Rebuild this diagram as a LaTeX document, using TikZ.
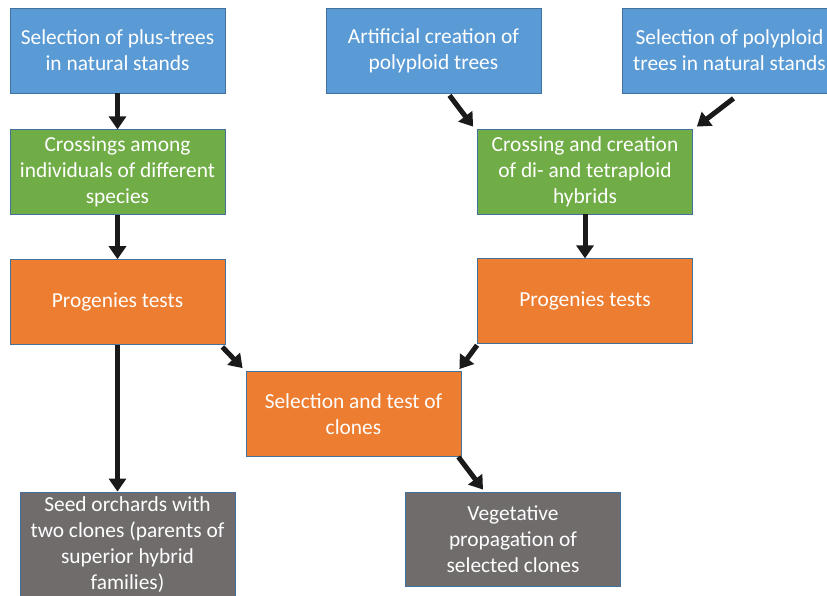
\documentclass[tikz,border=0pt]{standalone}
\usepackage{fontspec}
\setmainfont{Carlito}
\usepackage{xcolor}
\usepackage{tikz}
\usetikzlibrary{arrows.meta,positioning}
\definecolor{offblue}{HTML}{5B9BD5}
\definecolor{offgreen}{HTML}{70AD47}
\definecolor{offorange}{HTML}{ED7D31}
\definecolor{offgray}{HTML}{706C6C}
\definecolor{offedge}{HTML}{41719C}
\definecolor{arrowdark}{HTML}{1A1A1A}

\begin{document}
\begin{tikzpicture}[
  x=0.5pt, y=-0.5pt,
  node distance=18pt,
  stage/.style={rectangle, draw=offedge, line width=0.4pt, fill=#1, text=white,
               minimum width=107.5pt, minimum height=42.5pt, inner sep=2pt,
               font=\fontsize{10.7}{13}\selectfont, align=center},
  flow/.style={-{Triangle[length=6.5pt,width=8.5pt]}, line width=2.5pt, arrowdark},
]
\clip (0,0) rectangle (827,596);

% Sources
\node[stage=offblue] (plus) at (117.5,50.5) {Selection of plus-trees\\in natural stands};
\node[stage=offblue] (artif) at (433.5,50.5) {Artificial creation of\\polyploid trees};
\node[stage=offblue] (poly) at (729.5,50.5) {Selection of polyploid\\trees in natural stands};

% Crossings
\node[stage=offgreen, below=of plus] (cross) {Crossings among\\individuals of different\\species};
\node[stage=offgreen] (hybr) at (585,171.5) {Crossing and creation\\of di- and tetraploid\\hybrids};

% Tests
\node[stage=offorange, below=22pt of cross] (progl) {Progenies tests};
\node[stage=offorange, below=22pt of hybr] (progr) {Progenies tests};
\node[stage=offorange] (clones) at (353.5,414) {Selection and test of\\clones};

% Outcomes
\node[stage=offgray, minimum height=53pt] (seed) at (127.5,545) {Seed orchards with\\two clones (parents of\\superior hybrid\\families)};
\node[stage=offgray, minimum height=47pt] (veget) at (513,539) {Vegetative\\propagation of\\selected clones};

% Arrows
\draw[flow] (plus.south) -- (cross.north);
\draw[flow] (cross.south) -- (progl.north);
\draw[flow] ([xshift=8pt,yshift=-1pt]artif.south) -- ([xshift=-2pt,yshift=1pt]hybr.north west);
\draw[flow] ([xshift=2pt,yshift=-2.5pt]poly.south) -- ([xshift=2pt,yshift=1pt]hybr.north east);
\draw[flow] (hybr.south) -- (progr.north);
\draw[flow] ([xshift=-1.5pt,yshift=-1pt]progl.south east) -- ([xshift=-1.5pt,yshift=1.5pt]clones.north west);
\draw[flow] ([yshift=-0.5pt]progr.south west) -- ([xshift=-1pt,yshift=1pt]clones.north east);
\draw[flow] (progl.south) -- (progl.south |- seed.north);
\draw[flow] ([xshift=-1.5pt]clones.south east) -- ([xshift=-15pt,yshift=1pt]veget.north);

\end{tikzpicture}
\end{document}
